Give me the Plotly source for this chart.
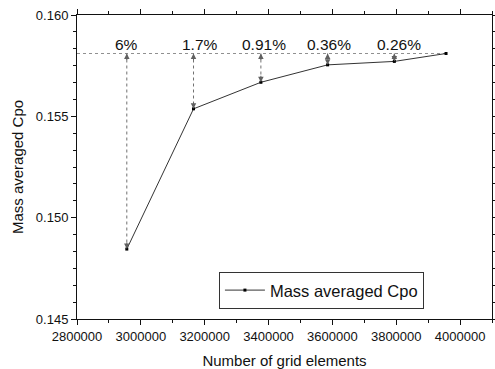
import plotly.graph_objects as go

grid_elements = [2956000, 3165000, 3376000, 3585000, 3794000, 3956000]
cpo = [0.14845, 0.15537, 0.15668, 0.15754, 0.15771, 0.15810]
pct_labels = ["6%", "1.7%", "0.91%", "0.36%", "0.26%"]
label_x = [2956000, 3185000, 3386000, 3590000, 3810000]
ref_value = cpo[-1]

fig = go.Figure()

# reference dotted line
fig.add_trace(go.Scatter(x=[2800000, grid_elements[-1]], y=[ref_value, ref_value],
                         mode="lines", line=dict(color="#909090", width=1, dash="dot"),
                         showlegend=False, hoverinfo="skip"))
# vertical dashed connectors
for xv, yv in zip(grid_elements[:-1], cpo[:-1]):
    fig.add_trace(go.Scatter(x=[xv, xv], y=[ref_value, yv], mode="lines",
                             line=dict(color="#707070", width=1, dash="dot"),
                             showlegend=False, hoverinfo="skip"))

fig.add_trace(go.Scatter(x=grid_elements, y=cpo, mode="lines+markers",
                         name="Mass averaged Cpo",
                         line=dict(color="#333333", width=1),
                         marker=dict(symbol="square", size=3, color="#000000")))

ann = []
for xv, yv in zip(grid_elements[:-1], cpo[:-1]):
    gap = (ref_value - yv)
    L = min(8, max(2, gap / 0.015 * 304 / 2))
    ann.append(dict(x=xv, y=yv, xref="x", yref="y", ax=0, ay=-L,
                    showarrow=True, arrowhead=2, arrowsize=1.1, arrowwidth=1,
                    arrowcolor="#606060", text=""))
    ann.append(dict(x=xv, y=ref_value, xref="x", yref="y", ax=0, ay=L,
                    showarrow=True, arrowhead=2, arrowsize=1.1, arrowwidth=1,
                    arrowcolor="#606060", text=""))
for xv, t in zip(label_x, pct_labels):
    ann.append(dict(x=xv, y=0.15853, xref="x", yref="y", text=t, showarrow=False,
                    font=dict(size=15.5, color="#111111"), yanchor="middle"))

fig.update_layout(
    width=495, height=369,
    margin=dict(l=77, r=3, t=15, b=50),
    paper_bgcolor="white", plot_bgcolor="white",
    font=dict(family="Liberation Sans, Arial, sans-serif", color="#111111"),
    annotations=ann,
    legend=dict(x=0.342, y=0.155, xanchor="left", yanchor="top",
                bordercolor="#333333", borderwidth=1, bgcolor="white",
                font=dict(size=16.5), itemwidth=40, tracegroupgap=0),
    xaxis=dict(range=[2800000, 4100000], tickvals=[2800000, 3000000, 3200000, 3400000, 3600000, 3800000, 4000000],
               ticktext=["2800000", "3000000", "3200000", "3400000", "3600000", "3800000", "4000000"],
               showgrid=False, zeroline=False, showline=True, linecolor="#111111", linewidth=1,
               mirror="allticks", ticks="outside", ticklen=5, tickcolor="#111111",
               tickfont=dict(size=13), automargin=False,
               minor=dict(dtick=100000, tick0=2800000, ticks="outside", ticklen=3, tickcolor="#111111"),
               title=dict(text="Number of grid elements", font=dict(size=15), standoff=22)),
    yaxis=dict(range=[0.145, 0.160], tickvals=[0.145, 0.150, 0.155, 0.160],
               ticktext=["0.145", "0.150", "0.155", "0.160"],
               showgrid=False, zeroline=False, showline=True, linecolor="#111111", linewidth=1,
               mirror="allticks", ticks="outside", ticklen=5, tickcolor="#111111",
               tickfont=dict(size=13), automargin=False,
               minor=dict(dtick=0.005 / 6, tick0=0.145, ticks="outside", ticklen=3, tickcolor="#111111"),
               title=dict(text="Mass averaged Cpo", font=dict(size=15), standoff=8)),
)

fig.write_html("out.html")
